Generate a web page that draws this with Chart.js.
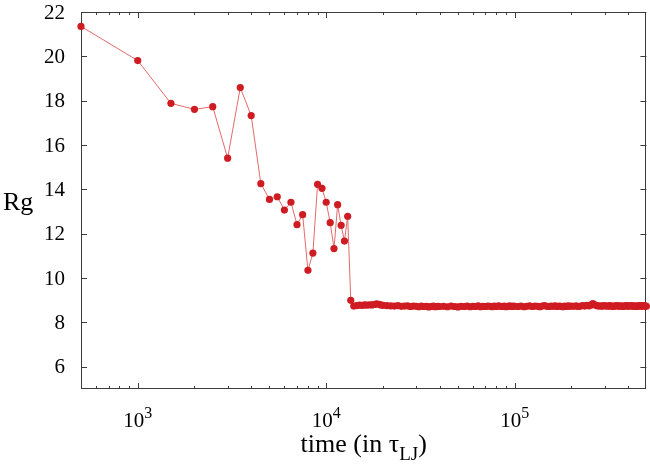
<!DOCTYPE html>
<html>
<head>
<meta charset="utf-8">
<script src="https://cdn.jsdelivr.net/npm/chart.js@4.4.1/dist/chart.umd.min.js"></script>
<style>
html, body { margin: 0; padding: 0; background: #fff; }
#wrap { width: 650px; height: 469px; position: relative; }
</style>
</head>
<body>
<div id="wrap"><canvas id="rgChart"></canvas></div>
<script>
// time (in tau_LJ) and radius of gyration
const earlyTime = [500, 1000, 1500, 2000, 2500, 3000, 3500, 4000, 4500, 5000,
    5500, 6000, 6500, 7000, 7500, 8000, 8500, 9000, 9500, 10000,
    10500, 11000, 11500, 12000, 12500, 13000, 13500, 14000];
const earlyRg = [21.35, 19.81, 17.88, 17.61, 17.73, 15.41, 18.59, 17.33, 14.26, 13.55,
    13.67, 13.07, 13.42, 12.41, 12.86, 10.35, 11.13, 14.23, 14.05, 13.42,
    12.50, 11.33, 13.31, 12.38, 11.67, 12.79, 9.00, 8.74];

// plateau after the collapse
const lateTime = [14500, 15000, 15500, 16000, 16500, 17000, 17500, 18000, 18500, 19000, 19500, 20000,
    21000, 22000, 23000, 24000, 25000, 26000, 27000, 28000, 29000, 30000,
    31000, 32000, 33000, 34000, 35000, 36000, 37000, 38000, 39000, 40000,
    42000, 44000, 46000, 48000, 50000, 52000, 54000, 56000, 58000, 60000,
    62000, 64000, 66000, 68000, 70000, 72000, 74000, 76000, 78000, 80000,
    82000, 84000, 86000, 88000, 90000, 92000, 94000, 96000, 98000, 100000,
    104000, 108000, 112000, 116000, 120000, 124000, 128000, 132000, 136000, 140000,
    144000, 148000, 152000, 156000, 160000, 164000, 168000, 172000, 176000, 180000,
    184000, 188000, 192000, 196000, 200000,
    206000, 212000, 218000, 224000, 230000, 236000, 242000, 248000, 254000, 260000,
    266000, 272000, 278000, 284000, 290000, 296000, 302000, 308000, 314000, 320000,
    326000, 332000, 338000, 344000, 350000, 356000, 362000, 368000, 374000, 380000,
    386000, 392000, 398000, 404000, 410000, 416000, 422000, 428000, 434000, 440000,
    446000, 452000, 458000, 464000, 470000, 476000, 482000, 488000, 494000, 500000];
const lateRg = [8.76, 8.78, 8.77, 8.79, 8.78, 8.80, 8.79, 8.81, 8.84, 8.82, 8.79, 8.77,
    8.76, 8.75, 8.74, 8.76, 8.73, 8.74, 8.75, 8.72, 8.74, 8.73,
    8.71, 8.74, 8.72, 8.73, 8.70, 8.72, 8.74, 8.71, 8.73, 8.72,
    8.73, 8.71, 8.74, 8.72, 8.70, 8.73, 8.72, 8.74, 8.71, 8.73,
    8.72, 8.75, 8.71, 8.73, 8.72, 8.74, 8.73, 8.71, 8.74, 8.72,
    8.75, 8.73, 8.72, 8.74, 8.71, 8.73, 8.75, 8.72, 8.74, 8.73,
    8.72, 8.74, 8.71, 8.73, 8.75, 8.72, 8.74, 8.73, 8.71, 8.74,
    8.76, 8.73, 8.72, 8.74, 8.73, 8.75, 8.72, 8.74, 8.73, 8.71,
    8.74, 8.72, 8.75, 8.73, 8.74,
    8.73, 8.75, 8.72, 8.74, 8.76, 8.74, 8.77, 8.75, 8.79, 8.85,
    8.80, 8.76, 8.74, 8.75, 8.73, 8.76, 8.74, 8.75, 8.73, 8.76,
    8.74, 8.72, 8.75, 8.74, 8.76, 8.73, 8.75, 8.74, 8.72, 8.75,
    8.74, 8.76, 8.73, 8.75, 8.74, 8.76, 8.73, 8.75, 8.74, 8.72,
    8.75, 8.73, 8.76, 8.74, 8.75, 8.73, 8.76, 8.74, 8.75, 8.73];

// axes
const xMajor = [1000, 10000, 100000];
const xMajorExp = ['3', '4', '5'];
const xMinor = [600, 700, 800, 900, 2000, 3000, 4000, 5000, 6000, 7000, 8000, 9000,
    20000, 30000, 40000, 50000, 60000, 70000, 80000, 90000, 200000, 300000, 400000];
const yTicks = [6, 8, 10, 12, 14, 16, 18, 20, 22];

const serif = '"Liberation Serif", "DejaVu Serif", serif';
const allRg = earlyRg.concat(lateRg);
const points = earlyTime.concat(lateTime).map((t, i) => ({ x: t, y: allRg[i] }));

// frame with inward ticks, gnuplot style
const framePlugin = {
    id: 'frame',
    beforeDatasetsDraw(chart) {
        const ctx = chart.ctx;
        const a = chart.chartArea;
        const xs = chart.scales.x;
        const ys = chart.scales.y;
        ctx.save();
        ctx.strokeStyle = '#3c3c3c';
        ctx.lineWidth = 1;
        ctx.beginPath();
        const vTick = (v, len) => {
            const px = Math.round(xs.getPixelForValue(v)) + 0.5;
            ctx.moveTo(px, a.bottom); ctx.lineTo(px, a.bottom - len);
            ctx.moveTo(px, a.top); ctx.lineTo(px, a.top + len);
        };
        xMajor.forEach(v => vTick(v, 6));
        xMinor.forEach(v => vTick(v, 3));
        yTicks.forEach(v => {
            const py = Math.round(ys.getPixelForValue(v)) + 0.5;
            ctx.moveTo(a.left, py); ctx.lineTo(a.left + 6, py);
            ctx.moveTo(a.right, py); ctx.lineTo(a.right - 6, py);
        });
        ctx.stroke();
        ctx.strokeRect(Math.round(a.left) + 0.5, Math.round(a.top) + 0.5,
            Math.round(a.width) - 1, Math.round(a.height) - 1);
        ctx.restore();
    },
    afterDraw(chart) {
        const ctx = chart.ctx;
        const a = chart.chartArea;
        const xs = chart.scales.x;
        const ys = chart.scales.y;
        ctx.save();
        ctx.fillStyle = '#000';

        // y tick labels
        ctx.font = '21px ' + serif;
        ctx.textAlign = 'right';
        ctx.textBaseline = 'middle';
        yTicks.forEach(v => ctx.fillText(String(v), 65, ys.getPixelForValue(v) + 1));

        // x tick labels 10^n
        ctx.textAlign = 'left';
        ctx.textBaseline = 'alphabetic';
        xMajor.forEach((v, i) => {
            ctx.font = '21px ' + serif;
            const w1 = ctx.measureText('10').width;
            ctx.font = '16px ' + serif;
            const w2 = ctx.measureText(xMajorExp[i]).width;
            const x0 = xs.getPixelForValue(v) - (w1 + w2) / 2;
            ctx.font = '21px ' + serif;
            ctx.fillText('10', x0, 427);
            ctx.font = '16px ' + serif;
            ctx.fillText(xMajorExp[i], x0 + w1, 418);
        });

        // x title: time (in tau_LJ)
        ctx.font = '26px ' + serif;
        const p1 = 'time (in \u03c4';
        const p3 = ')';
        const w1 = ctx.measureText(p1).width;
        const w3 = ctx.measureText(p3).width;
        ctx.font = '19px ' + serif;
        const w2 = ctx.measureText('LJ').width;
        let x0 = (a.left + a.right) / 2 - (w1 + w2 + w3) / 2;
        ctx.font = '26px ' + serif;
        ctx.fillText(p1, x0, 452);
        ctx.font = '19px ' + serif;
        ctx.fillText('LJ', x0 + w1, 460);
        ctx.font = '26px ' + serif;
        ctx.fillText(p3, x0 + w1 + w2, 452);

        // y title
        ctx.font = '26px ' + serif;
        ctx.fillText('Rg', 3, 210);
        ctx.restore();
    }
};

const ctx = document.getElementById('rgChart').getContext('2d');
const rgChart = new Chart(ctx, {
    type: 'line',
    data: {
        datasets: [{
            label: 'Rg',
            data: points,
            borderColor: 'rgba(222, 80, 80, 0.85)',
            borderWidth: 1,
            pointRadius: 3.6,
            pointBorderWidth: 0,
            pointBackgroundColor: '#cf1b22',
            pointHoverRadius: 3.6,
            tension: 0,
            clip: false,
            fill: false
        }]
    },
    options: {
        responsive: true,
        maintainAspectRatio: false,
        animation: false,
        devicePixelRatio: 1,
        layout: { padding: { left: 0, right: 3, top: 12, bottom: 0 } },
        plugins: {
            legend: { display: false },
            tooltip: { enabled: false }
        },
        scales: {
            x: {
                type: 'logarithmic',
                min: 500,
                max: 500000,
                grid: { display: false },
                border: { display: false },
                ticks: { display: false },
                afterFit(scale) { scale.height = 80; }
            },
            y: {
                type: 'linear',
                min: 5,
                max: 22,
                grid: { display: false },
                border: { display: false },
                ticks: { display: false },
                afterFit(scale) { scale.width = 81; }
            }
        }
    },
    plugins: [framePlugin]
});
</script>
</body>
</html>
